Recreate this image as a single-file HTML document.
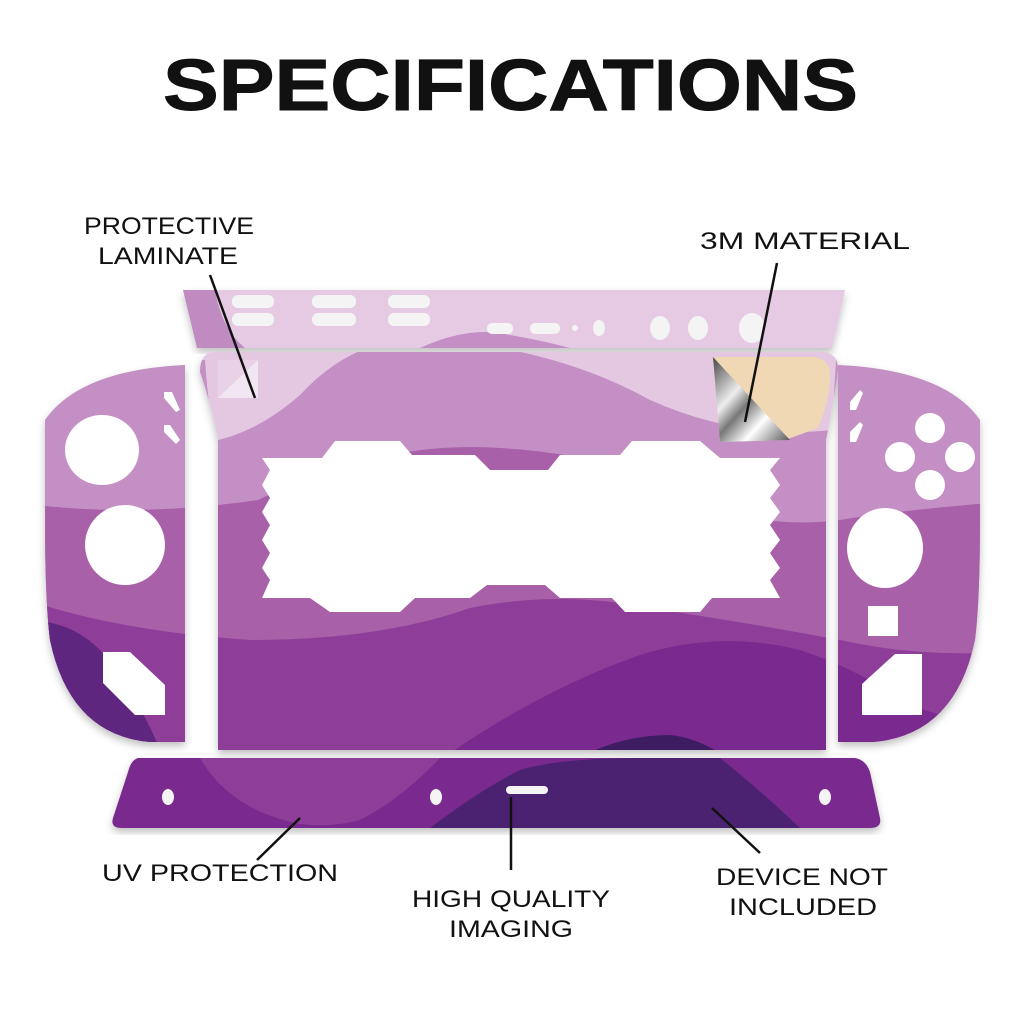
<!DOCTYPE html>
<html><head><meta charset="utf-8"><style>
html,body{margin:0;padding:0;background:#fff;}
svg{display:block}
text{font-family:"Liberation Sans",sans-serif;fill:#111;}
</style></head><body>
<svg width="1024" height="1024" viewBox="0 0 1024 1024" xmlns="http://www.w3.org/2000/svg">
<defs>
<clipPath id="pieces">
  <path d="M215 352 H822 Q838 352 838 370 Q834 400 826 440 V750 H218 V440 Q210 400 200 372 Q200 352 215 352 Z"/>
  <path d="M185 365 V742 H150 Q70 735 50 640 Q45 600 45 520 V420 Q80 370 185 365 Z"/>
  <path d="M838 365 V742 H873 Q955 735 975 640 Q980 600 980 520 V420 Q945 370 838 365 Z"/>
</clipPath>
<linearGradient id="metal" x1="0" y1="0" x2="1" y2="1">
  <stop offset="0" stop-color="#444"/><stop offset="0.35" stop-color="#eee"/><stop offset="0.5" stop-color="#777"/><stop offset="0.7" stop-color="#fff"/><stop offset="1" stop-color="#555"/>
</linearGradient>
<filter id="sh" x="-5%" y="-5%" width="110%" height="115%"><feDropShadow dx="0" dy="4" stdDeviation="4" flood-color="#000" flood-opacity="0.25"/></filter>
</defs>

<text x="163" y="110" font-size="72" font-weight="bold" textLength="695" lengthAdjust="spacingAndGlyphs" stroke="#111" stroke-width="1">SPECIFICATIONS</text>

<!-- top bar -->
<g filter="url(#sh)">
<path d="M183 290 H845 L832 348 H197 Z" fill="#e6cae3"/>
<path d="M183 290 H215 Q222 330 245 348 H197 Z" fill="#c08bc0"/>
<path d="M420 348 Q470 325 510 335 Q540 340 570 348 Z" fill="#c48fc4"/>
</g>
<g fill="#f4f4f4">
<rect x="232" y="295" width="42" height="13" rx="6"/><rect x="312" y="295" width="44" height="13" rx="6"/><rect x="388" y="295" width="42" height="13" rx="6"/>
<rect x="232" y="313" width="42" height="13" rx="6"/><rect x="312" y="313" width="44" height="13" rx="6"/><rect x="388" y="313" width="42" height="13" rx="6"/>
<rect x="487" y="323" width="26" height="11" rx="5"/><rect x="530" y="323" width="30" height="11" rx="5"/>
<circle cx="575" cy="328" r="3"/><ellipse cx="599" cy="328" rx="6" ry="8"/>
<ellipse cx="660" cy="328" rx="10" ry="12"/><ellipse cx="698" cy="328" rx="10" ry="12"/><ellipse cx="752" cy="328" rx="13" ry="15"/>
</g>

<!-- main pieces -->
<g filter="url(#sh)">
<g clip-path="url(#pieces)">
<rect x="0" y="340" width="1024" height="420" fill="#e4c8e2"/>
<path d="M0 360 H205 Q210 430 218 440 Q260 430 300 395 Q360 330 440 340 Q560 350 650 400 Q740 440 832 430 L836 360 H1024 V760 H0 Z" fill="#c48fc4"/>
<path d="M0 500 Q120 520 258 500 Q380 440 500 448 Q620 455 700 500 Q760 530 840 520 Q900 510 1024 500 V760 H0 Z" fill="#a860a8"/>
<path d="M0 590 Q100 630 250 640 Q380 640 470 608 Q560 590 650 608 Q760 625 840 640 Q930 660 1024 650 V760 H0 Z" fill="#8e3c98"/>
<path d="M0 625 Q60 610 100 650 Q140 700 160 750 H0 Z" fill="#5e2780"/>
<path d="M440 760 Q540 690 640 655 Q720 630 800 650 Q860 670 900 700 Q940 720 1024 730 V760 Z" fill="#7a2a8e"/>
<path d="M575 760 Q620 735 670 735 Q700 738 730 760 Z" fill="#3e1c62"/>
</g>
</g>

<!-- screen cutout -->
<path d="M262 458 L270 470 L262 485 L270 498 L262 512 L270 525 L262 540 L270 553 L262 568 L270 580 L262 598 H310 L330 612 H400 L415 598 H470 L487 585 H545 L560 598 H612 L625 612 H700 L712 598 H780 L770 580 L780 568 L770 553 L780 540 L770 525 L780 512 L770 498 L780 485 L770 470 L780 458 H720 L700 441 H632 L620 455 H560 L548 470 H490 L475 455 H412 L400 441 H335 L322 458 Z" fill="#fff"/>

<!-- left joycon holes -->
<g fill="#fff">
<ellipse cx="102" cy="450" rx="37" ry="35"/>
<ellipse cx="125" cy="545" rx="40" ry="40"/>
<path d="M103 652 H130 L165 685 V715 H135 L103 683 Z"/>
<path d="M164 392 L172 392 L180 410 L176 412 L164 398 Z"/>
<path d="M164 425 L170 425 L180 440 L176 444 L164 432 Z"/>
<circle cx="930" cy="428" r="15"/><circle cx="900" cy="457" r="15"/><circle cx="960" cy="457" r="15"/><circle cx="930" cy="485" r="15"/>
<ellipse cx="885" cy="548" rx="38" ry="40"/>
<rect x="868" y="606" width="30" height="30"/>
<path d="M862 684 L895 654 H922 V715 H895 L862 715 Z"/>
<path d="M850 402 L860 390 L863 393 L856 410 L850 410 Z"/>
<path d="M850 432 L860 422 L863 425 L856 442 L850 442 Z"/>
</g>

<!-- laminate -->
<path d="M218 398 L258 360 V398 Z" fill="#fff" opacity="0.45"/>
<rect x="218" y="360" width="40" height="38" fill="#fff" opacity="0.18"/>
<!-- 3M -->
<path d="M713 357 H815 Q830 360 830 375 Q830 400 818 428 L785 440 L720 442 Z" fill="#f0d8b4"/>
<path d="M713 357 L790 440 L720 442 Z" fill="url(#metal)"/>

<!-- bottom bar -->
<g filter="url(#sh)">
<path d="M138 758 H855 Q866 760 870 772 L880 818 Q882 828 870 828 H122 Q110 828 113 818 L128 772 Q131 760 138 758 Z" fill="#7a2a8e"/>
<path d="M140 758 H200 Q230 810 300 824 Q330 828 360 820 Q400 800 440 758 Z" fill="#8e3c98"/>
<path d="M430 828 Q480 790 520 770 Q560 758 640 758 H720 Q760 790 800 828 Z" fill="#4c2272"/>
</g>
<g fill="#f4f4f4">
<ellipse cx="168" cy="797" rx="6" ry="8"/><ellipse cx="436" cy="797" rx="6" ry="8"/><ellipse cx="825" cy="797" rx="6" ry="8"/>
<rect x="506" y="786" width="42" height="8" rx="4"/>
</g>

<!-- labels -->
<g font-size="24">
<text x="84" y="234" textLength="170" lengthAdjust="spacingAndGlyphs">PROTECTIVE</text>
<text x="98" y="264" textLength="140" lengthAdjust="spacingAndGlyphs">LAMINATE</text>
<text x="700" y="249" textLength="210" lengthAdjust="spacingAndGlyphs">3M MATERIAL</text>
<text x="102" y="881" textLength="236" lengthAdjust="spacingAndGlyphs">UV PROTECTION</text>
<text x="412" y="907" textLength="198" lengthAdjust="spacingAndGlyphs">HIGH QUALITY</text>
<text x="449" y="937" textLength="124" lengthAdjust="spacingAndGlyphs">IMAGING</text>
<text x="716" y="885" textLength="172" lengthAdjust="spacingAndGlyphs">DEVICE NOT</text>
<text x="729" y="915" textLength="148" lengthAdjust="spacingAndGlyphs">INCLUDED</text>
</g>
<g stroke="#111" stroke-width="2.5">
<line x1="210" y1="275" x2="255" y2="398"/>
<line x1="777" y1="263" x2="745" y2="422"/>
<line x1="257" y1="860" x2="300" y2="818"/>
<line x1="511" y1="870" x2="511" y2="797"/>
<line x1="760" y1="853" x2="712" y2="808"/>
</g>
</svg>
</body></html>
